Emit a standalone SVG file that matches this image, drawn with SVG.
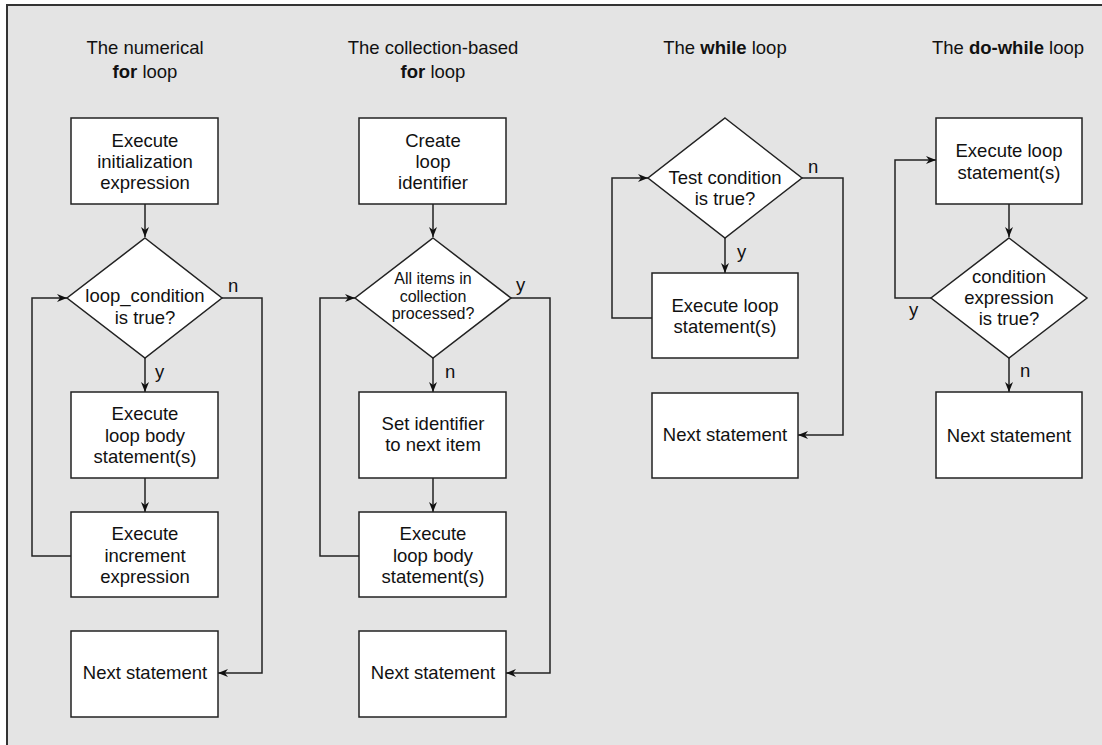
<svg xmlns="http://www.w3.org/2000/svg" width="1102" height="745" viewBox="0 0 1102 745">
<defs>
<marker id="ah" viewBox="0 0 10 10" refX="10" refY="5" markerWidth="10" markerHeight="10" markerUnits="userSpaceOnUse" orient="auto">
<path d="M0,1 L10,5 L0,9 L3,5 Z" fill="#111"/>
</marker>
<style>
.bg{fill:#e4e4e4}
.frame{fill:none;stroke:#333;stroke-width:2}
.node rect,.node polygon{fill:#fff;stroke:#222;stroke-width:1.5}
text{font-family:"Liberation Sans",Arial,sans-serif;font-size:18.5px;fill:#111;text-anchor:middle}
.small{font-size:16px}
.lbl{text-anchor:start}
.conn path{fill:none;stroke:#222;stroke-width:1.5}
.arr{marker-end:url(#ah)}
.b{font-weight:bold}
</style>
</defs>
<rect x="0" y="0" width="1102" height="745" fill="#fff"/>
<rect class="bg" x="7" y="5" width="1095" height="740"/>
<path class="frame" d="M7,745 V5 H1102"/>

<!-- titles -->
<g id="title1"><text x="145" y="54">The numerical</text><text x="145" y="78"><tspan class="b">for</tspan> loop</text></g>
<g id="title2"><text x="433" y="54">The collection-based</text><text x="433" y="78"><tspan class="b">for</tspan> loop</text></g>
<g id="title3"><text x="725" y="54">The <tspan class="b">while</tspan> loop</text></g>
<g id="title4"><text x="1008" y="54">The <tspan class="b">do-while</tspan> loop</text></g>

<!-- connectors -->
<g class="conn">
<path class="arr" d="M145,204 V237"/>
<path class="arr" d="M145,358 V392"/>
<path class="arr" d="M145,478 V512"/>
<path class="arr" d="M71,556 H32 V298 H67"/>
<path class="arr" d="M222,298 H262 V673 H218"/>

<path class="arr" d="M433,204 V237"/>
<path class="arr" d="M433,358 V392"/>
<path class="arr" d="M433,478 V512"/>
<path class="arr" d="M359,556 H320 V298 H355"/>
<path class="arr" d="M511,298 H550 V673 H506"/>

<path class="arr" d="M725,238 V273"/>
<path class="arr" d="M652,318 H612 V178 H648"/>
<path class="arr" d="M802,178 H843 V435 H798"/>

<path class="arr" d="M1009,204 V237"/>
<path class="arr" d="M931,298 H895 V160 H936"/>
<path class="arr" d="M1009,358 V392"/>
</g>

<!-- edge labels -->
<g id="labels">
<text class="lbl" x="228" y="292">n</text>
<text class="lbl" x="155" y="378">y</text>
<text class="lbl" x="516" y="291">y</text>
<text class="lbl" x="445" y="378">n</text>
<text class="lbl" x="808" y="173">n</text>
<text class="lbl" x="737" y="258">y</text>
<text class="lbl" x="909" y="316">y</text>
<text class="lbl" x="1020" y="377">n</text>
</g>

<!-- column 1 -->
<g id="n1_init" class="node"><rect x="71" y="118" width="147" height="86"/>
<text x="145" y="147">Execute</text><text x="145" y="168">initialization</text><text x="145" y="189">expression</text></g>
<g id="n1_cond" class="node"><polygon points="145,238 222,298 145,358 67,298"/>
<text x="145" y="302">loop_condition</text><text x="145" y="324">is true?</text></g>
<g id="n1_body" class="node"><rect x="71" y="392" width="147" height="86"/>
<text x="145" y="420">Execute</text><text x="145" y="442">loop body</text><text x="145" y="463">statement(s)</text></g>
<g id="n1_inc" class="node"><rect x="71" y="512" width="147" height="85"/>
<text x="145" y="540">Execute</text><text x="145" y="562">increment</text><text x="145" y="583">expression</text></g>
<g id="n1_next" class="node"><rect x="71" y="631" width="147" height="86"/>
<text x="145" y="679">Next statement</text></g>

<!-- column 2 -->
<g id="n2_create" class="node"><rect x="359" y="118" width="147" height="86"/>
<text x="433" y="147">Create</text><text x="433" y="168">loop</text><text x="433" y="189">identifier</text></g>
<g id="n2_cond" class="node"><polygon points="433,238 511,298 433,358 355,298"/>
<text class="small" x="433" y="284">All items in</text><text class="small" x="433" y="302">collection</text><text class="small" x="433" y="319">processed?</text></g>
<g id="n2_set" class="node"><rect x="359" y="392" width="147" height="86"/>
<text x="433" y="430">Set identifier</text><text x="433" y="451">to next item</text></g>
<g id="n2_body" class="node"><rect x="359" y="512" width="147" height="85"/>
<text x="433" y="540">Execute</text><text x="433" y="562">loop body</text><text x="433" y="583">statement(s)</text></g>
<g id="n2_next" class="node"><rect x="359" y="631" width="147" height="86"/>
<text x="433" y="679">Next statement</text></g>

<!-- column 3 -->
<g id="n3_cond" class="node"><polygon points="725,118 802,178 725,238 648,178"/>
<text x="725" y="184">Test condition</text><text x="725" y="205">is true?</text></g>
<g id="n3_body" class="node"><rect x="652" y="273" width="146" height="85"/>
<text x="725" y="312">Execute loop</text><text x="725" y="333">statement(s)</text></g>
<g id="n3_next" class="node"><rect x="652" y="393" width="146" height="85"/>
<text x="725" y="441">Next statement</text></g>

<!-- column 4 -->
<g id="n4_body" class="node"><rect x="936" y="118" width="146" height="86"/>
<text x="1009" y="157">Execute loop</text><text x="1009" y="179">statement(s)</text></g>
<g id="n4_cond" class="node"><polygon points="1009,238 1087,298 1009,358 931,298"/>
<text x="1009" y="283">condition</text><text x="1009" y="304">expression</text><text x="1009" y="325">is true?</text></g>
<g id="n4_next" class="node"><rect x="936" y="392" width="146" height="86"/>
<text x="1009" y="442">Next statement</text></g>
</svg>
